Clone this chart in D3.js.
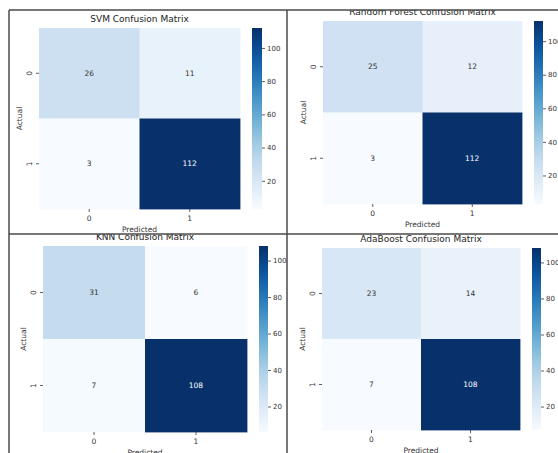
<!DOCTYPE html>
<html>
<head>
<meta charset="utf-8">
<script src="https://cdn.jsdelivr.net/npm/d3@7"></script>
<style>
  html, body { margin: 0; padding: 0; background: #fff; }
  svg { display: block; }
  text { font-family: "DejaVu Sans", sans-serif; }
</style>
</head>
<body>
<svg id="chart" width="558" height="453"></svg>
<script>
// Confusion matrices (rows = actual class, columns = predicted class)
const modelNames = ["SVM", "Random Forest", "KNN", "AdaBoost"];
const classLabels = ["0", "1"];
const svmCounts = [[26, 11], [3, 112]];
const randomForestCounts = [[25, 12], [3, 112]];
const knnCounts = [[31, 6], [7, 108]];
const adaBoostCounts = [[23, 14], [7, 108]];
const colorbarTicks = [20, 40, 60, 80, 100];

const matrices = [svmCounts, randomForestCounts, knnCounts, adaBoostCounts];

// Layout of the 2x2 grid: clip box, heatmap box and colorbar span per panel
const panels = [
  { clip: [9, 10, 287, 234],   cells: [39, 28, 240, 209],   bar: [252, 262] },
  { clip: [287, 10, 558, 234], cells: [323, 21, 522, 204],  bar: [534, 543] },
  { clip: [9, 234, 287, 453],  cells: [43, 246, 247, 432],  bar: [259, 268] },
  { clip: [287, 234, 558, 453], cells: [322, 248, 520, 430], bar: [532, 541] }
];

const textColor = "#333";
const svg = d3.select("#chart");
const defs = svg.append("defs");

panels.forEach((p, i) => {
  const counts = matrices[i];
  const [vmin, vmax] = d3.extent(counts.flat());
  const color = d3.scaleSequential(d3.interpolateBlues).domain([vmin, vmax]);
  const [cx0, cy0, cx1, cy1] = p.cells;

  const x = d3.scaleBand().domain(classLabels).range([cx0, cx1]);
  const y = d3.scaleBand().domain(classLabels).range([cy0, cy1]);

  const [kx0, ky0, kx1, ky1] = p.clip;
  defs.append("clipPath").attr("id", "clip" + i)
    .append("rect").attr("x", kx0).attr("y", ky0)
    .attr("width", kx1 - kx0).attr("height", ky1 - ky0);

  const g = svg.append("g").attr("clip-path", `url(#clip${i})`);

  // Heatmap cells
  const cells = counts.flatMap((row, r) =>
    row.map((v, c) => ({ actual: classLabels[r], predicted: classLabels[c], v })));

  g.selectAll("rect.cell").data(cells).join("rect")
    .attr("class", "cell")
    .attr("x", d => x(d.predicted))
    .attr("y", d => y(d.actual))
    .attr("width", x.bandwidth() + 0.4)
    .attr("height", y.bandwidth() + 0.4)
    .attr("fill", d => color(d.v));

  g.selectAll("text.annot").data(cells).join("text")
    .attr("class", "annot")
    .attr("x", d => x(d.predicted) + x.bandwidth() / 2)
    .attr("y", d => y(d.actual) + y.bandwidth() / 2)
    .attr("dy", "0.35em")
    .attr("text-anchor", "middle")
    .attr("font-size", 7.5)
    .attr("fill", d => d3.lab(color(d.v)).l < 55 ? "#fff" : textColor)
    .text(d => d.v);

  // Predicted axis (bottom)
  const xAxis = g.append("g")
    .attr("transform", `translate(0,${cy1})`)
    .call(d3.axisBottom(x).tickSize(3).tickPadding(4));
  xAxis.select(".domain").remove();
  xAxis.selectAll("line").attr("stroke", textColor).attr("stroke-width", 0.8);
  xAxis.selectAll("text").attr("font-size", 7.5).attr("fill", textColor)
    .attr("font-family", "DejaVu Sans");

  // Actual axis (left) with vertical tick labels
  const yAxis = g.append("g")
    .attr("transform", `translate(${cx0},0)`)
    .call(d3.axisLeft(y).tickSize(3));
  yAxis.select(".domain").remove();
  yAxis.selectAll("line").attr("stroke", textColor).attr("stroke-width", 0.8);
  yAxis.selectAll("text")
    .attr("font-size", 7.5).attr("fill", textColor)
    .attr("font-family", "DejaVu Sans")
    .attr("transform", "rotate(-90)")
    .attr("x", 0).attr("y", -7).attr("dy", 0)
    .attr("text-anchor", "middle");

  g.append("text")
    .attr("transform", `translate(${cx0 - 20},${(cy0 + cy1) / 2}) rotate(-90)`)
    .attr("dy", "0.35em")
    .attr("text-anchor", "middle")
    .attr("font-size", 7.5).attr("fill", textColor)
    .text("Actual");

  g.append("text")
    .attr("x", (cx0 + cx1) / 2).attr("y", cy1 + 20)
    .attr("dy", "0.35em")
    .attr("text-anchor", "middle")
    .attr("font-size", 7.5).attr("fill", textColor)
    .text("Predicted");

  g.append("text")
    .attr("x", (cx0 + cx1) / 2).attr("y", cy0 - 9)
    .attr("dy", "0.35em")
    .attr("text-anchor", "middle")
    .attr("font-size", 9).attr("fill", "#222")
    .text(`${modelNames[i]} Confusion Matrix`);

  // Colorbar
  const cb = d3.scaleLinear().domain([vmin, vmax]).range([cy1, cy0]);
  const grad = defs.append("linearGradient").attr("id", "grad" + i)
    .attr("x1", 0).attr("y1", 1).attr("x2", 0).attr("y2", 0);
  d3.range(0, 1.0001, 0.05).forEach(t => {
    grad.append("stop").attr("offset", t)
      .attr("stop-color", color(vmin + t * (vmax - vmin)));
  });
  const [bx0, bx1] = p.bar;
  g.append("rect")
    .attr("x", bx0).attr("y", cy0)
    .attr("width", bx1 - bx0).attr("height", cy1 - cy0)
    .attr("fill", `url(#grad${i})`);

  const cAxis = g.append("g")
    .attr("transform", `translate(${bx1},0)`)
    .call(d3.axisRight(cb).tickValues(colorbarTicks).tickSize(3).tickPadding(2));
  cAxis.select(".domain").remove();
  cAxis.selectAll("line").attr("stroke", textColor).attr("stroke-width", 0.8);
  cAxis.selectAll("text").attr("font-size", 7).attr("fill", textColor)
    .attr("font-family", "DejaVu Sans");
});

// Grid frame lines
const frame = [
  [9, 10, 558, 10],
  [9, 234, 558, 234],
  [9, 10, 9, 453],
  [287, 10, 287, 453]
];
svg.append("g").selectAll("line").data(frame).join("line")
  .attr("x1", d => d[0]).attr("y1", d => d[1])
  .attr("x2", d => d[2]).attr("y2", d => d[3])
  .attr("stroke", "#4a4a4a").attr("stroke-width", 1.5);
</script>
</body>
</html>
